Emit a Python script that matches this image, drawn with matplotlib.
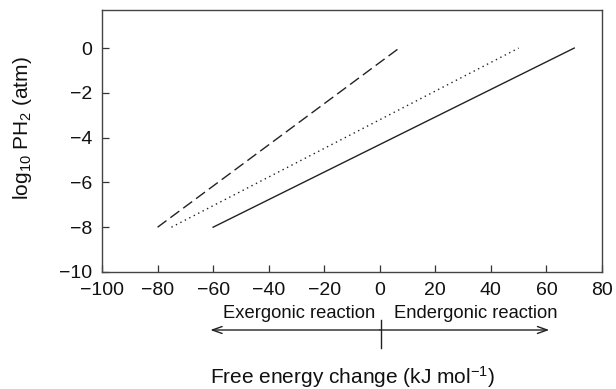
import matplotlib
matplotlib.use("Agg")
import matplotlib.pyplot as plt
import matplotlib.transforms as mtransforms

plt.rcParams['font.family'] = ['Liberation Sans', 'DejaVu Sans']
plt.rcParams['mathtext.fontset'] = 'custom'
plt.rcParams['mathtext.rm'] = 'Liberation Sans'
plt.rcParams['mathtext.it'] = 'Liberation Sans'

# Data
dashed_x = [-80, 7]
dashed_y = [-8, 0]
dotted_x = [-75, 50]
dotted_y = [-8, 0]
solid_x = [-60, 70]
solid_y = [-8, 0]

x_ticks = [-100, -80, -60, -40, -20, 0, 20, 40, 60, 80]
y_ticks = [-10, -8, -6, -4, -2, 0]

fig = plt.figure(figsize=(6.16, 3.89), dpi=100)
ax = fig.add_axes([102/616, 1-272/389, 500/616, 262/389])

ax.plot(dashed_x, dashed_y, color='#222222', lw=1.0, linestyle=(0, (8, 3.5)))
ax.plot(dotted_x, dotted_y, color='#222222', lw=1.0, linestyle=(0, (1, 2.6)))
ax.plot(solid_x, solid_y, color='#222222', lw=1.0, linestyle='-')

ax.set_xlim(-100, 80)
ax.set_ylim(-10, 1.7)
ax.set_xticks(x_ticks)
ax.set_yticks(y_ticks)
ax.set_xticklabels([str(t).replace('-', '\u2212') for t in x_ticks])
ax.set_yticklabels([str(t).replace('-', '\u2212') for t in y_ticks])
ax.tick_params(direction='in', length=4.7, width=0.9, labelsize=14, colors='#333333',
               labelcolor='#111111', pad=7)
for s in ax.spines.values():
    s.set_color('#444444')
    s.set_linewidth(1.0)

blend = mtransforms.blended_transform_factory(ax.transData, fig.transFigure)
ya = 1 - 330/389
ax.annotate('', xy=(-61, ya), xytext=(0, ya), xycoords=blend, textcoords=blend,
            arrowprops=dict(arrowstyle='->,head_length=0.7,head_width=0.25', lw=1.0, color='#222222',
                            shrinkA=0, shrinkB=0), annotation_clip=False)
ax.annotate('', xy=(61, ya), xytext=(0, ya), xycoords=blend, textcoords=blend,
            arrowprops=dict(arrowstyle='->,head_length=0.7,head_width=0.25', lw=1.0, color='#222222',
                            shrinkA=0, shrinkB=0), annotation_clip=False)
ax.plot([0.5, 0.5], [1-320/389, 1-348/389], transform=blend, color='#222222', lw=1.0, clip_on=False)

ty = 1 - 314/389
ax.text(-1.5, ty, 'Exergonic reaction', transform=blend, ha='right', va='center', fontsize=13.2, color='#111111')
ax.text(5, ty, 'Endergonic reaction', transform=blend, ha='left', va='center', fontsize=13.2, color='#111111')

fig.text(352/616, 1-377/389, 'Free energy change (kJ mol$^{\\mathregular{-1}}$)', ha='center', va='center',
         fontsize=15, color='#111111')
fig.text(22/616, 1-128/389, r'log$_{\mathregular{10}}$ PH$_{\mathregular{2}}$ (atm)', rotation=90,
         ha='center', va='center', fontsize=15, color='#111111')

fig.savefig('out.png', dpi=100)
